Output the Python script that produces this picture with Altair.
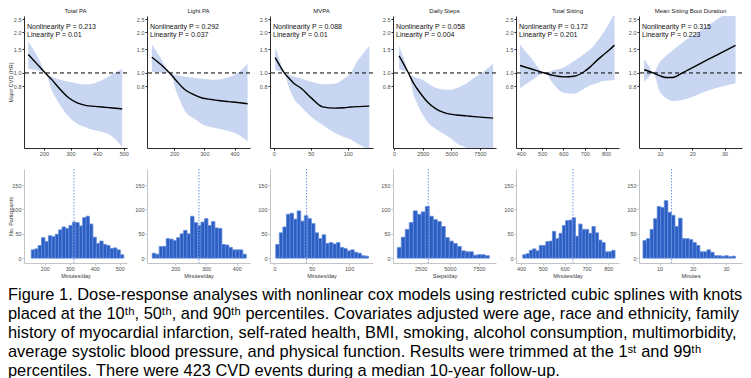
import altair as alt
import pandas as pd

# ---------------- data ----------------
panel_titles = ["Total PA", "Light PA", "MVPA", "Daily Steps", "Total Sitting", "Mean Sitting Bout Duration"]
p_nonlin = ["0.213", "0.292", "0.088", "0.058", "0.172", "0.315"]
p_lin = ["0.01", "0.037", "0.01", "0.004", "0.201", "0.223"]
hist_xtitles = ["Minutes/day", "Minutes/day", "Minutes/day", "Steps/day", "Minutes/day", "Minutes"]

# spline curves (exposure, HR estimate, upper CI, lower CI)
tpa_x = [141, 160, 180, 205, 231, 260, 294, 325, 356, 390, 419, 450, 494]
tpa_est = [1.37, 1.25, 1.13, 1.00, 0.885, 0.76, 0.652, 0.60, 0.575, 0.565, 0.558, 0.552, 0.54]
tpa_hi = [1.70, 1.50, 1.28, 1.00, 0.936, 0.89, 0.86, 0.835, 0.82, 0.84, 0.885, 0.96, 1.075]
tpa_lo = [1.075, 1.06, 1.04, 1.00, 0.73, 0.58, 0.47, 0.42, 0.395, 0.375, 0.364, 0.345, 0.283]

lpa_x = [126, 155, 185, 210, 236, 265, 292, 325, 347, 380, 410, 443]
lpa_est = [1.31, 1.16, 1.00, 0.86, 0.75, 0.69, 0.652, 0.635, 0.624, 0.612, 0.603, 0.59]
lpa_hi = [1.63, 1.30, 1.00, 0.96, 0.94, 0.92, 0.905, 0.89, 0.895, 0.93, 1.0, 1.17]
lpa_lo = [1.02, 1.01, 1.00, 0.70, 0.52, 0.46, 0.418, 0.395, 0.385, 0.37, 0.35, 0.308]

mvpa_x = [2, 8, 14.3, 20, 27, 37, 51, 66, 82, 95, 104, 112, 121, 129]
mvpa_est = [1.30, 1.14, 1.00, 0.92, 0.84, 0.77, 0.65, 0.56, 0.548, 0.552, 0.558, 0.562, 0.565, 0.567]
mvpa_hi = [1.55, 1.25, 1.00, 0.97, 0.94, 0.91, 0.86, 0.825, 0.83, 0.91, 1.0, 1.2, 1.4, 1.59]
mvpa_lo = [1.05, 1.03, 1.00, 0.80, 0.65, 0.56, 0.47, 0.41, 0.36, 0.335, 0.32, 0.30, 0.283, 0.27]

steps_x = [430, 850, 1250, 1690, 1980, 2560, 2850, 3720, 4300, 4880, 5460, 6330, 7000, 7780, 8650]
steps_est = [1.34, 1.16, 1.00, 0.84, 0.77, 0.66, 0.617, 0.537, 0.51, 0.494, 0.487, 0.48, 0.474, 0.468, 0.462]
steps_hi = [1.60, 1.27, 1.00, 0.94, 0.92, 0.885, 0.85, 0.77, 0.755, 0.75, 0.77, 0.837, 0.92, 1.017, 1.17]
steps_lo = [1.075, 1.04, 1.00, 0.69, 0.60, 0.48, 0.44, 0.38, 0.354, 0.33, 0.30, 0.277, 0.26, 0.24, 0.22]

sit_x = [396, 450, 511, 557, 603, 649, 695, 726, 756, 787, 815, 840]
sit_est = [1.137, 1.07, 1.00, 0.955, 0.936, 0.945, 1.017, 1.11, 1.235, 1.36, 1.48, 1.61]
sit_hi = [1.63, 1.28, 1.00, 1.05, 1.105, 1.22, 1.38, 1.50, 1.70, 1.98, 2.35, 2.77]
sit_lo = [0.77, 0.88, 1.00, 0.81, 0.71, 0.70, 0.76, 0.81, 0.84, 0.87, 0.88, 0.885]

bout_x = [5.1, 6.5, 7.9, 9.9, 11.9, 13.9, 16.9, 18.9, 22.9, 24.9, 28.9, 33.4]
bout_est = [1.057, 1.03, 1.00, 0.955, 0.925, 0.925, 1.0, 1.06, 1.19, 1.26, 1.41, 1.60]
bout_hi = [1.27, 1.13, 1.00, 1.20, 1.34, 1.47, 1.68, 1.82, 2.09, 2.25, 2.62, 3.1]
bout_lo = [0.86, 0.93, 1.00, 0.73, 0.65, 0.62, 0.63, 0.65, 0.71, 0.74, 0.79, 0.84]

hr_ticks = [0.8, 1.0, 1.5, 2.0, 2.5]

# histograms (first bin start, bin width, counts) and medians
tpa_bin = (146, 13.7)
tpa_counts = [17, 19, 26, 42, 34, 46, 44, 49, 58, 64, 61, 67, 74, 73, 66, 83, 86, 70, 43, 30, 35, 28, 26, 20, 21, 17, 7]
lpa_bin = (125, 11.33)
lpa_counts = [10, 8, 24, 24, 40, 39, 36, 42, 50, 57, 50, 86, 73, 67, 74, 81, 67, 75, 62, 61, 28, 27, 22, 17, 17, 17, 8]
mvpa_bin = (1.7, 4.78)
mvpa_counts = [28, 52, 64, 90, 92, 80, 97, 76, 87, 81, 71, 52, 40, 48, 30, 32, 29, 32, 22, 20, 15, 17, 12, 10, 5, 4]
steps_bin = (494, 343)
steps_counts = [22, 43, 59, 73, 97, 90, 95, 106, 86, 79, 75, 65, 42, 35, 30, 24, 15, 13, 13, 6, 7, 7, 5]
sit_bin = (408, 15.1)
sit_counts = [7, 9, 16, 19, 15, 26, 26, 34, 35, 55, 40, 51, 67, 77, 78, 83, 45, 70, 59, 59, 51, 65, 52, 37, 32, 13, 13, 16]
bout_bin = (5.0, 1.07)
bout_counts = [36, 40, 59, 81, 106, 104, 118, 94, 88, 65, 82, 40, 40, 38, 32, 26, 13, 13, 17, 12, 5, 5, 4, 5, 3, 4]
medians = [317, 277, 43, 3150, 638, 13.6]

# axes layout per panel
top_domains = [[125, 512], [110, 451], [-5, 134], [-100, 8900], [377, 861], [3.5, 35.4]]
top_ticks = [[200, 300, 400, 500], [200, 300, 400], [0, 50, 100], [0, 2500, 5000, 7500],
             [400, 500, 600, 700, 800], [10, 20, 30]]
bot_domains = [[117, 529], [108, 443], [-6, 132], [125, 8960], [377, 849], [3.8, 34.8]]
bot_ticks = [[200, 300, 400, 500], [200, 300, 400], [0, 50, 100], [2500, 5000, 7500],
             [400, 500, 600, 700, 800], [10, 20, 30]]
count_ticks = [0, 50, 100, 150]

caption = [
    "Figure 1. Dose-response analyses with nonlinear cox models using restricted cubic splines with knots",
    "placed at the 10\u1d57\u02b0, 50\u1d57\u02b0, and 90\u1d57\u02b0 percentiles. Covariates adjusted were age, race and ethnicity, family",
    "history of myocardial infarction, self-rated health, BMI, smoking, alcohol consumption, multimorbidity,",
    "average systolic blood pressure, and physical function. Results were trimmed at the 1\u02e2\u1d57 and 99\u1d57\u02b0",
    "percentiles. There were 423 CVD events during a median 10-year follow-up.",
]

curves = [
    (tpa_x, tpa_est, tpa_hi, tpa_lo),
    (lpa_x, lpa_est, lpa_hi, lpa_lo),
    (mvpa_x, mvpa_est, mvpa_hi, mvpa_lo),
    (steps_x, steps_est, steps_hi, steps_lo),
    (sit_x, sit_est, sit_hi, sit_lo),
    (bout_x, bout_est, bout_hi, bout_lo),
]
hists = [
    (tpa_bin, tpa_counts), (lpa_bin, lpa_counts), (mvpa_bin, mvpa_counts),
    (steps_bin, steps_counts), (sit_bin, sit_counts), (bout_bin, bout_counts),
]

# ---------------- styling ----------------
FONT = "Liberation Sans"
W = 103
H_TOP = 132
H_BOT = 94
BAND = "#c8d6f1"
BAR_FILL = "#2b5dc2"
BAR_EDGE = "#5f8bdb"


def top_panel(i):
    xs, est, hi, lo = curves[i]
    df = pd.DataFrame({"x": xs, "est": est, "hi": hi, "lo": lo})
    xsc = alt.Scale(domain=top_domains[i], nice=False, zero=False)
    ysc = alt.Scale(type="log", domain=[0.277, 2.65], nice=False)
    xaxis = alt.Axis(values=top_ticks[i], title=None, grid=False, domainColor="#2b2b2b",
                     tickColor="#2b2b2b", labelColor="#4d4d4d", labelFontSize=5.5,
                     tickSize=2, labelPadding=1.5, labelFont=FONT, domainWidth=1,
                     format="d")
    yaxis = alt.Axis(values=hr_ticks, format=".1f",
                     title="Major CVD (HR)" if i == 0 else "",
                     grid=False, domainColor="#2b2b2b", tickColor="#2b2b2b",
                     labelColor="#4d4d4d", labelFontSize=5.5, labelFont=FONT,
                     tickSize=2, labelPadding=1, domainWidth=1,
                     titleFontSize=5.5, titleFont=FONT, titleFontWeight="normal",
                     titleColor="#333333", titlePadding=2,
                     minExtent=9, maxExtent=9)
    X = alt.X("x:Q", scale=xsc, axis=xaxis)
    band = alt.Chart(df).mark_area(color=BAND, clip=True, interpolate="monotone").encode(
        x=X, y=alt.Y("lo:Q", scale=ysc, axis=yaxis), y2="hi:Q")
    line = alt.Chart(df).mark_line(color="black", strokeWidth=1.4, clip=True,
                                   interpolate="monotone").encode(
        x=X, y=alt.Y("est:Q", scale=ysc, axis=yaxis))
    ref = alt.Chart(pd.DataFrame({"r": [1.0]})).mark_rule(
        color="black", strokeDash=[4, 3], strokeWidth=1).encode(
        y=alt.Y("r:Q", scale=ysc, axis=yaxis))
    txt1 = alt.Chart(pd.DataFrame({"t": [f"Nonlinearity P = {p_nonlin[i]}"]})).mark_text(
        align="left", baseline="middle", fontSize=7, font=FONT, color="#111111").encode(
        text="t:N", x=alt.value(3), y=alt.value(11))
    txt2 = alt.Chart(pd.DataFrame({"t": [f"Linearity P = {p_lin[i]}"]})).mark_text(
        align="left", baseline="middle", fontSize=7, font=FONT, color="#111111").encode(
        text="t:N", x=alt.value(3), y=alt.value(18.5))
    return alt.layer(band, line, ref, txt1, txt2).properties(
        width=W, height=H_TOP,
        title=alt.TitleParams(panel_titles[i], fontSize=6, font=FONT, fontWeight="normal",
                              color="#222222", offset=2))


def bottom_panel(i):
    (start, width), counts = hists[i]
    x0 = [start + k * width for k in range(len(counts))]
    df = pd.DataFrame({"x0": x0, "x1": [v + width for v in x0], "n": counts})
    xsc = alt.Scale(domain=bot_domains[i], nice=False, zero=False)
    ysc = alt.Scale(domain=[-10, 183], nice=False, zero=False)
    xaxis = alt.Axis(values=bot_ticks[i], title=hist_xtitles[i], grid=False,
                     domainColor="#c4c4c4", tickColor="#c4c4c4", labelColor="#4d4d4d",
                     labelFontSize=5.5, labelFont=FONT, tickSize=2, labelPadding=1.5,
                     titleFontSize=5.5, titleFont=FONT, titleFontWeight="normal",
                     titleColor="#333333", titlePadding=1.5, format="d")
    yaxis = alt.Axis(values=count_ticks, title="No. Participants" if i == 0 else "",
                     grid=False, domainColor="#c4c4c4", tickColor="#c4c4c4",
                     labelColor="#4d4d4d", labelFontSize=5.5, labelFont=FONT,
                     tickSize=2, labelPadding=1,
                     titleFontSize=5.5, titleFont=FONT, titleFontWeight="normal",
                     titleColor="#333333", titlePadding=2,
                     minExtent=9, maxExtent=9)
    bars = alt.Chart(df).mark_rect(fill=BAR_FILL, stroke=BAR_EDGE, strokeWidth=0.8).encode(
        x=alt.X("x0:Q", scale=xsc, axis=xaxis), x2="x1:Q",
        y=alt.Y("n:Q", scale=ysc, axis=yaxis), y2=alt.datum(0))
    med = alt.Chart(pd.DataFrame({"m": [medians[i]]})).mark_rule(
        color="#6e96de", strokeDash=[1.5, 1.5], strokeWidth=1).encode(
        x=alt.X("m:Q", scale=xsc, axis=xaxis))
    return alt.layer(bars, med).properties(width=W, height=H_BOT)


charts = [top_panel(i) for i in range(6)] + [bottom_panel(i) for i in range(6)]

chart = alt.concat(*charts, columns=6, spacing={"row": 21, "column": 20}, bounds="flush").properties(
    padding={"left": 0, "top": 0, "right": 0, "bottom": 0},
    title=alt.TitleParams(caption, orient="bottom", anchor="start", fontSize=16.4,
                          font=FONT, fontWeight="normal", color="#000000",
                          lineHeight=19, offset=8),
).configure_view(stroke=None)

chart.save("out.html", embed_options={"renderer": "svg", "actions": False})
